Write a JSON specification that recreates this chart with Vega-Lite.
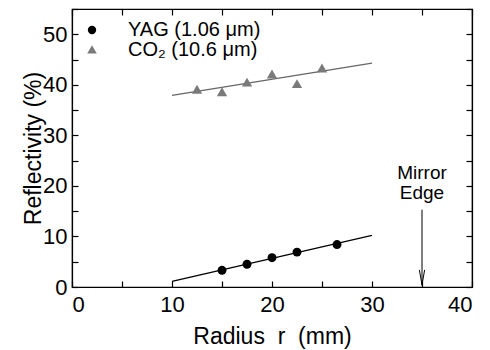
{
  "$schema": "https://vega.github.io/schema/vega-lite/v6.json",
  "width": 400,
  "height": 278,
  "autosize": {"type": "none"},
  "padding": {"left": 72, "top": 9, "right": 18, "bottom": 63},
  "background": "white",
  "config": {
    "font": "Liberation Sans",
    "view": {"stroke": "black", "strokeWidth": 1.2},
    "axis": {
      "labelFont": "Liberation Sans",
      "titleFont": "Liberation Sans",
      "labelFontSize": 22,
      "titleFontSize": 23,
      "titleFontWeight": "normal",
      "labelColor": "black",
      "titleColor": "black",
      "domainColor": "black",
      "tickColor": "black",
      "grid": false,
      "tickSize": -6,
      "tickWidth": 1.2,
      "domainWidth": 1.2
    }
  },
  "datasets": {
    "pts": [
      {"series": "YAG (1.06 μm)", "r": 15, "R": 3.3},
      {"series": "YAG (1.06 μm)", "r": 17.5, "R": 4.5},
      {"series": "YAG (1.06 μm)", "r": 20, "R": 5.8},
      {"series": "YAG (1.06 μm)", "r": 22.5, "R": 6.9},
      {"series": "YAG (1.06 μm)", "r": 26.5, "R": 8.4},
      {"series": "CO₂ (10.6 μm)", "r": 12.5, "R": 39.0},
      {"series": "CO₂ (10.6 μm)", "r": 15, "R": 38.5},
      {"series": "CO₂ (10.6 μm)", "r": 17.5, "R": 40.4},
      {"series": "CO₂ (10.6 μm)", "r": 20, "R": 42.0},
      {"series": "CO₂ (10.6 μm)", "r": 22.5, "R": 40.1},
      {"series": "CO₂ (10.6 μm)", "r": 25, "R": 43.2}
    ],
    "fits": [
      {"series": "YAG", "r": 10, "R": 1.1},
      {"series": "YAG", "r": 30, "R": 10.2},
      {"series": "CO2", "r": 10, "R": 37.9},
      {"series": "CO2", "r": 30, "R": 44.3}
    ],
    "arrow": [{"r": 35, "top": 15.3, "bottom": 0.3, "head": 1.9, "ty": 22.6, "label": "Mirror\nEdge"}]
  },
  "layer": [
    {
      "data": {"name": "fits"},
      "transform": [{"filter": "datum.series == 'YAG'"}],
      "mark": {"type": "line", "strokeWidth": 1.3, "color": "#000000"},
      "encoding": {
        "x": {
          "field": "r", "type": "quantitative",
          "scale": {"domain": [0, 40], "nice": false},
          "axis": {
            "orient": "bottom",
            "title": "Radius\u00a0 r\u00a0 (mm)",
            "values": [0, 5, 10, 15, 20, 25, 30, 35, 40],
            "labelExpr": "datum.value % 10 == 0 ? datum.label : ''",
            "labelPadding": 13,
            "titlePadding": 10
          }
        },
        "y": {
          "field": "R", "type": "quantitative",
          "scale": {"domain": [0, 55], "nice": false},
          "axis": {
            "orient": "left",
            "title": "Reflectivity (%)",
            "values": [0, 5, 10, 15, 20, 25, 30, 35, 40, 45, 50, 55],
            "labelExpr": "datum.value % 10 == 0 ? datum.label : ''",
            "labelPadding": 11,
            "titlePadding": -3
          }
        }
      }
    },
    {
      "data": {"name": "fits"},
      "transform": [{"filter": "datum.series == 'CO2'"}],
      "mark": {"type": "line", "strokeWidth": 1.3, "color": "#666666"},
      "encoding": {
        "x": {"field": "r", "type": "quantitative", "axis": null},
        "y": {"field": "R", "type": "quantitative", "axis": null}
      }
    },
    {
      "data": {"name": "pts"},
      "mark": {"type": "point", "filled": true, "opacity": 1, "size": 80},
      "encoding": {
        "x": {"field": "r", "type": "quantitative", "axis": null},
        "y": {"field": "R", "type": "quantitative", "axis": null},
        "shape": {
          "field": "series", "type": "nominal",
          "scale": {"domain": ["YAG (1.06 μm)", "CO₂ (10.6 μm)"], "range": ["circle", "M0,-1.15L1.15,0.85L-1.15,0.85Z"]},
          "legend": {
            "title": null,
            "orient": "none",
            "legendX": 10,
            "legendY": 11,
            "labelFont": "Liberation Sans",
            "labelFontSize": 20,
            "labelColor": "black",
            "symbolSize": 70,
            "symbolStrokeWidth": 0,
            "rowPadding": -3,
            "labelOffset": 26,
            "padding": 0
          }
        },
        "fill": {
          "field": "series", "type": "nominal",
          "scale": {"domain": ["YAG (1.06 μm)", "CO₂ (10.6 μm)"], "range": ["#000000", "#7a7a7a"]},
          "legend": {
            "title": null,
            "orient": "none",
            "legendX": 10,
            "legendY": 11,
            "labelFont": "Liberation Sans",
            "labelFontSize": 20,
            "labelColor": "black",
            "symbolSize": 70,
            "symbolStrokeWidth": 0,
            "rowPadding": -3,
            "labelOffset": 26,
            "padding": 0
          }
        }
      }
    },
    {
      "data": {"name": "arrow"},
      "mark": {"type": "rule", "color": "black", "strokeWidth": 1},
      "encoding": {
        "x": {"field": "r", "type": "quantitative", "axis": null},
        "y": {"field": "top", "type": "quantitative", "axis": null},
        "y2": {"field": "bottom"}
      }
    },
    {
      "data": {"name": "arrow"},
      "mark": {"type": "point", "shape": "M-0.35,-1L0,1L0.35,-1", "filled": false, "stroke": "black", "strokeWidth": 1, "size": 225, "opacity": 1},
      "encoding": {
        "x": {"field": "r", "type": "quantitative", "axis": null},
        "y": {"field": "head", "type": "quantitative", "axis": null}
      }
    },
    {
      "data": {"name": "arrow"},
      "mark": {"type": "text", "font": "Liberation Sans", "fontSize": 19, "lineBreak": "\n", "lineHeight": 20, "align": "center", "baseline": "middle", "color": "black"},
      "encoding": {
        "x": {"field": "r", "type": "quantitative", "axis": null},
        "y": {"field": "ty", "type": "quantitative", "axis": null},
        "text": {"field": "label"}
      }
    },
    {
      "data": {"name": "fits"},
      "mark": {"type": "point", "opacity": 0},
      "encoding": {
        "x": {
          "field": "r", "type": "quantitative",
          "axis": {"orient": "top", "title": null, "labels": false, "values": [0, 5, 10, 15, 20, 25, 30, 35, 40]}
        },
        "y": {
          "field": "R", "type": "quantitative",
          "axis": {"orient": "right", "title": null, "labels": false, "values": [0, 5, 10, 15, 20, 25, 30, 35, 40, 45, 50, 55]}
        }
      }
    }
  ],
  "resolve": {"axis": {"x": "independent", "y": "independent"}}
}
